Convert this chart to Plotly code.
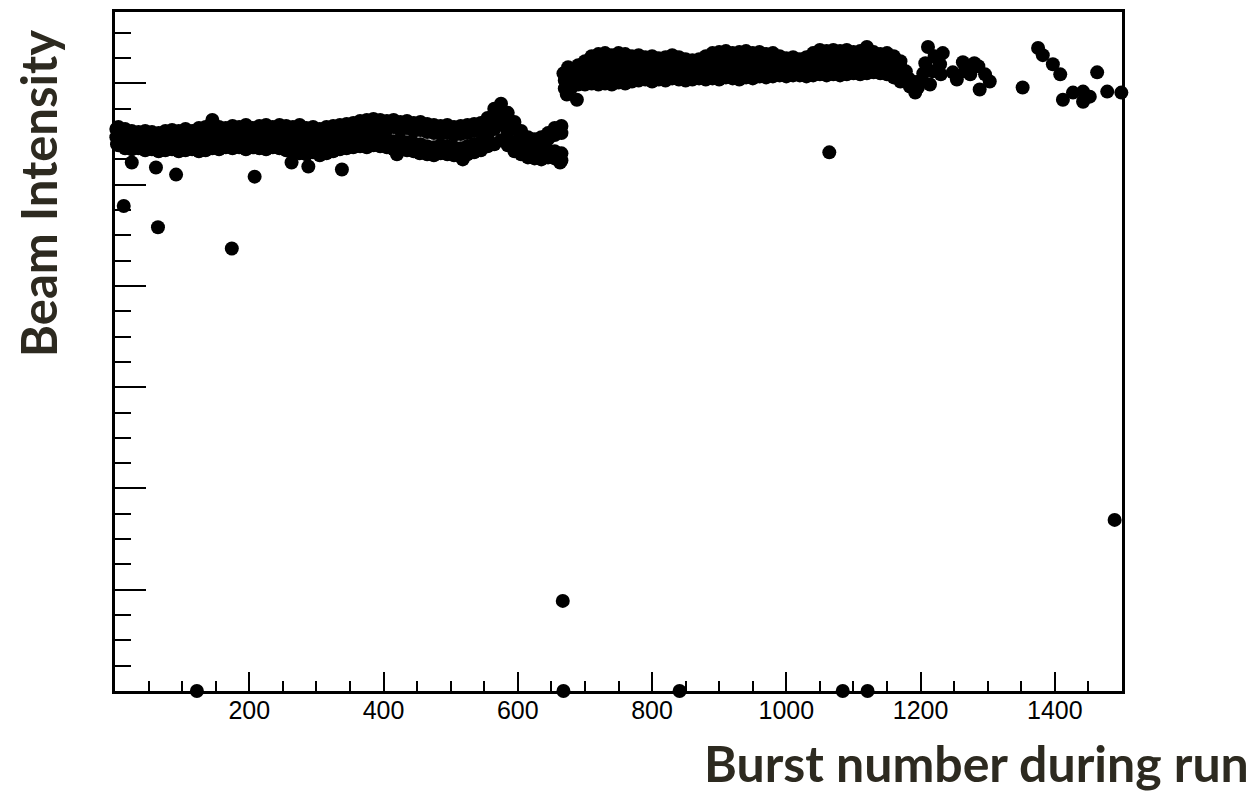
import plotly.graph_objects as go

# ---------------- data (burst number, beam intensity in arbitrary units) ----------------
# lower band (bursts ~5-665): column positions and four hand-read levels per column
low_burst = [5, 15, 25, 35, 45, 55, 65, 75, 85, 95,
             105, 115, 125, 135, 145, 155, 165, 175, 185, 195,
             205, 215, 225, 235, 245, 255, 265, 275, 285, 295,
             305, 315, 325, 335, 345, 355, 365, 375, 385, 395,
             405, 415, 425, 435, 445, 455, 465, 475, 485, 495,
             505, 515, 525, 535, 545, 555, 565, 575, 585, 595,
             605, 615, 625, 635, 645, 655, 665]
low_top = [5.57, 5.55, 5.53, 5.52, 5.53, 5.52, 5.51, 5.53, 5.54, 5.53,
           5.55, 5.53, 5.56, 5.57, 5.64, 5.57, 5.56, 5.58, 5.57, 5.59,
           5.56, 5.58, 5.59, 5.57, 5.59, 5.58, 5.57, 5.59, 5.56, 5.57,
           5.55, 5.57, 5.58, 5.59, 5.60, 5.61, 5.63, 5.64, 5.65, 5.64,
           5.63, 5.64, 5.62, 5.63, 5.61, 5.62, 5.60, 5.59, 5.58, 5.59,
           5.57, 5.58, 5.59, 5.60, 5.61, 5.66, 5.75, 5.80, 5.71, 5.62,
           5.53, 5.47, 5.45, 5.47, 5.51, 5.56, 5.58]
low_upper_mid = [5.50, 5.49, 5.47, 5.45, 5.44, 5.46, 5.44, 5.45, 5.47, 5.46,
                 5.48, 5.45, 5.49, 5.50, 5.57, 5.49, 5.50, 5.51, 5.49, 5.52,
                 5.49, 5.51, 5.52, 5.49, 5.52, 5.50, 5.49, 5.51, 5.48, 5.50,
                 5.47, 5.49, 5.51, 5.52, 5.53, 5.54, 5.56, 5.57, 5.58, 5.57,
                 5.55, 5.57, 5.54, 5.56, 5.53, 5.54, 5.52, 5.51, 5.50, 5.51,
                 5.49, 5.50, 5.51, 5.53, 5.54, 5.59, 5.67, 5.72, 5.64, 5.55,
                 5.47, 5.41, 5.39, 5.41, 5.45, 5.49, 5.51]
low_lower_mid = [5.46, 5.44, 5.42, 5.43, 5.41, 5.42, 5.40, 5.41, 5.42, 5.40,
                 5.41, 5.42, 5.40, 5.41, 5.44, 5.42, 5.44, 5.43, 5.44, 5.42,
                 5.44, 5.43, 5.42, 5.44, 5.43, 5.41, 5.40, 5.39, 5.38, 5.40,
                 5.37, 5.39, 5.41, 5.43, 5.44, 5.45, 5.46, 5.45, 5.47, 5.46,
                 5.45, 5.43, 5.44, 5.42, 5.41, 5.40, 5.38, 5.37, 5.39, 5.38,
                 5.37, 5.36, 5.38, 5.40, 5.42, 5.46, 5.55, 5.60, 5.52, 5.42,
                 5.37, 5.34, 5.33, 5.32, 5.34, 5.33, 5.31]
low_bottom = [5.39, 5.36, 5.35, 5.36, 5.34, 5.35, 5.33, 5.34, 5.35, 5.33,
              5.34, 5.35, 5.33, 5.34, 5.36, 5.35, 5.37, 5.36, 5.37, 5.35,
              5.37, 5.36, 5.35, 5.37, 5.36, 5.34, 5.32, 5.31, 5.30, 5.32,
              5.29, 5.31, 5.33, 5.35, 5.36, 5.37, 5.38, 5.37, 5.39, 5.38,
              5.37, 5.35, 5.36, 5.34, 5.33, 5.32, 5.30, 5.29, 5.31, 5.30,
              5.29, 5.28, 5.30, 5.32, 5.34, 5.38, 5.40, 5.44, 5.39, 5.33,
              5.30, 5.27, 5.26, 5.25, 5.27, 5.26, 5.24]

# upper band (bursts ~680-1170): five hand-read levels per column
high_burst = [680, 690, 700, 710, 720, 730, 740, 750, 760, 770,
              780, 790, 800, 810, 820, 830, 840, 850, 860, 870,
              880, 890, 900, 910, 920, 930, 940, 950, 960, 970,
              980, 990, 1000, 1010, 1020, 1030, 1040, 1050, 1060, 1070,
              1080, 1090, 1100, 1110, 1120, 1130, 1140, 1150, 1160, 1170]
high_l1 = [6.14, 6.18, 6.22, 6.27, 6.29, 6.30, 6.28, 6.30, 6.29, 6.27,
           6.28, 6.26, 6.27, 6.25, 6.26, 6.28, 6.26, 6.24, 6.23, 6.24,
           6.27, 6.30, 6.31, 6.32, 6.30, 6.31, 6.32, 6.30, 6.31, 6.29,
           6.30, 6.27, 6.25, 6.26, 6.24, 6.26, 6.30, 6.33, 6.32, 6.33,
           6.32, 6.33, 6.31, 6.32, 6.36, 6.31, 6.29, 6.30, 6.27, 6.22]
high_l2 = [6.07, 6.11, 6.15, 6.19, 6.21, 6.22, 6.20, 6.22, 6.21, 6.19,
           6.20, 6.19, 6.19, 6.18, 6.19, 6.21, 6.19, 6.17, 6.16, 6.17,
           6.20, 6.22, 6.23, 6.24, 6.23, 6.23, 6.24, 6.23, 6.24, 6.22,
           6.23, 6.21, 6.19, 6.20, 6.19, 6.20, 6.23, 6.25, 6.25, 6.26,
           6.25, 6.26, 6.24, 6.25, 6.29, 6.25, 6.23, 6.24, 6.21, 6.16]
high_l3 = [6.02, 6.05, 6.08, 6.12, 6.14, 6.15, 6.13, 6.15, 6.14, 6.13,
           6.14, 6.14, 6.13, 6.13, 6.14, 6.15, 6.14, 6.12, 6.11, 6.12,
           6.14, 6.16, 6.16, 6.18, 6.17, 6.17, 6.18, 6.17, 6.18, 6.16,
           6.17, 6.16, 6.14, 6.15, 6.14, 6.15, 6.17, 6.19, 6.19, 6.20,
           6.19, 6.20, 6.19, 6.19, 6.22, 6.20, 6.18, 6.18, 6.15, 6.11]
high_l4 = [5.99, 6.02, 6.04, 6.06, 6.06, 6.07, 6.06, 6.08, 6.07, 6.08,
           6.09, 6.09, 6.08, 6.09, 6.09, 6.10, 6.09, 6.08, 6.08, 6.09,
           6.09, 6.10, 6.10, 6.12, 6.11, 6.10, 6.12, 6.11, 6.12, 6.11,
           6.12, 6.12, 6.11, 6.12, 6.11, 6.11, 6.13, 6.14, 6.14, 6.15,
           6.14, 6.15, 6.15, 6.14, 6.16, 6.16, 6.14, 6.14, 6.11, 6.06]
high_l5 = [5.96, 5.99, 5.99, 6.00, 5.99, 6.00, 5.99, 6.01, 6.00, 6.02,
           6.03, 6.04, 6.02, 6.04, 6.03, 6.05, 6.04, 6.03, 6.04, 6.05,
           6.04, 6.05, 6.04, 6.06, 6.05, 6.04, 6.06, 6.05, 6.07, 6.06,
           6.07, 6.08, 6.07, 6.08, 6.08, 6.07, 6.08, 6.09, 6.08, 6.09,
           6.08, 6.09, 6.10, 6.09, 6.10, 6.11, 6.10, 6.09, 6.06, 6.02]

# individual bursts: edges of the bands, sparse tail, and outliers
single_burst = [2, 2, 3, 25, 61, 91, 208, 263, 288, 338, 420, 454, 518, 663, 13, 64, 174,
                668, 670, 670, 673, 675, 675, 688,
                1178, 1182, 1184, 1188, 1192, 1196, 1200, 1204, 1207, 1211, 1214, 1218,
                1221, 1224, 1229, 1230, 1233,
                1248, 1254, 1263, 1266, 1274, 1280, 1286, 1288, 1296, 1303,
                1352, 1375, 1382, 1397, 1408, 1412, 1427, 1442, 1442, 1452, 1463, 1478, 1499,
                1064, 667, 1489, 122, 668, 841, 1084, 1121]
single_intensity = [5.55, 5.47, 5.40, 5.22, 5.17, 5.10, 5.08, 5.22, 5.18, 5.15, 5.30, 5.31, 5.25, 5.22, 4.79, 4.58, 4.37,
                    6.10, 6.03, 5.95, 5.89, 6.16, 5.93, 5.84,
                    6.12, 6.05, 5.97, 6.02, 5.91, 5.96, 6.03, 6.10, 6.20, 6.36, 5.99, 6.12,
                    6.27, 6.25, 6.19, 6.09, 6.30,
                    6.11, 6.04, 6.21, 6.12, 6.09, 6.20, 6.17, 5.94, 6.09, 6.02,
                    5.96, 6.35, 6.28, 6.19, 6.09, 5.84, 5.91, 5.92, 5.82, 5.87, 6.11, 5.92, 5.91,
                    5.32, 0.89, 1.69, 0.0, 0.0, 0.0, 0.0, 0.0]

x_tick_values = [200, 400, 600, 800, 1000, 1200, 1400]
x_tick_labels = ["200", "400", "600", "800", "1000", "1200", "1400"]

# ---------------- assemble ----------------
xs, ys = [], []
for row in (low_top, low_upper_mid, low_lower_mid, low_bottom):
    xs += low_burst
    ys += row
for row in (high_l1, high_l2, high_l3, high_l4, high_l5):
    xs += high_burst
    ys += row
xs += single_burst
ys += single_intensity

fig = go.Figure()
fig.add_trace(go.Scatter(
    x=xs, y=ys, mode="markers",
    marker=dict(size=14, color="black", line=dict(width=0)),
    cliponaxis=False, showlegend=False, hoverinfo="skip"))

W, H = 1253, 793
L, R, T, B = 115, 131, 9, 102
pw, ph = W - L - R, H - T - B

def px_to_paper(px, py):
    return (px - L) / pw, (H - B - py) / ph

fig.update_layout(
    width=W, height=H,
    margin=dict(l=L, r=R, t=T, b=B, pad=0),
    paper_bgcolor="white", plot_bgcolor="white",
    font=dict(family="Liberation Sans, Arial, sans-serif", color="black"),
)
fig.update_xaxes(
    range=[0, 1500], showgrid=False, zeroline=False,
    showline=True, linecolor="black", linewidth=2.5, mirror=True,
    ticks="inside", ticklen=19, tickwidth=2, tickcolor="black",
    tickvals=x_tick_values, ticktext=x_tick_labels,
    ticklabelstandoff=-5,
    tickfont=dict(family="Liberation Sans, Arial, sans-serif", size=25, color="black"),
    minor=dict(dtick=50, tick0=0, ticks="inside", ticklen=10, tickwidth=2, tickcolor="black"),
)
fig.update_yaxes(
    range=[0, 6.706], showgrid=False, zeroline=False,
    showline=True, linecolor="black", linewidth=2.5, mirror=True,
    ticks="inside", ticklen=31, tickwidth=2, tickcolor="black",
    dtick=1, tick0=0, showticklabels=False,
    minor=dict(dtick=0.25, tick0=0, ticks="inside", ticklen=16, tickwidth=2, tickcolor="black"),
)

ax, ay = px_to_paper(1251, 763)
fig.add_annotation(text="<b>Burst number during run</b>", xref="paper", yref="paper",
                   x=ax, y=ay, xanchor="right", yanchor="middle", showarrow=False,
                   font=dict(family="Lato, Noto Sans, sans-serif", size=50, color="#2d2a20"))
bx, by = px_to_paper(38, 192)
fig.add_annotation(text="<b>Beam Intensity</b>", xref="paper", yref="paper",
                   x=bx, y=by, xanchor="center", yanchor="middle", showarrow=False,
                   textangle=-90,
                   font=dict(family="Lato, Noto Sans, sans-serif", size=49, color="#2d2a20"))

fig.write_html("out.html")
